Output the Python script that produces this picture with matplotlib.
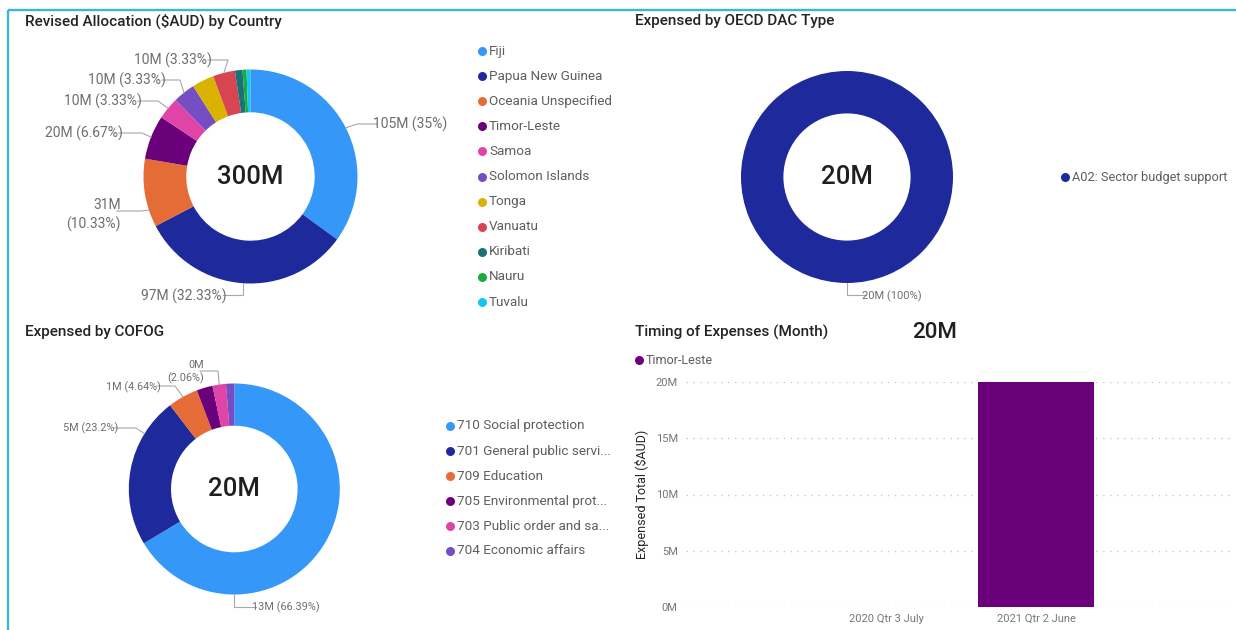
import matplotlib
matplotlib.use("Agg")
import matplotlib.pyplot as plt
import numpy as np

W, H = 1236, 630
FONT = ["Roboto", "DejaVu Sans"]
plt.rcParams["font.family"] = FONT

# ---------------- data ----------------
country_names = ["Fiji", "Papua New Guinea", "Oceania Unspecified", "Timor-Leste",
                 "Samoa", "Solomon Islands", "Tonga", "Vanuatu", "Kiribati",
                 "Nauru", "Tuvalu"]
country_values = [105, 97, 31, 20, 10, 10, 10, 10, 3.4, 1.8, 1.8]   # $M
country_colors = ["#3597F8", "#1E2A9C", "#E66C37", "#6B007B", "#E044A7",
                  "#744EC2", "#D9B300", "#D64550", "#197278", "#1AAB40", "#15C6F4"]

dac_names = ["A02: Sector budget support"]
dac_values = [20]   # $M
dac_colors = ["#1E2A9C"]

cofog_names = ["710 Social protection", "701 General public servi...", "709 Education",
               "705 Environmental prot...", "703 Public order and sa...",
               "704 Economic affairs"]
cofog_values = [13.278, 4.64, 0.928, 0.49, 0.412, 0.252]   # $M
cofog_colors = ["#3597F8", "#1E2A9C", "#E66C37", "#6B007B", "#E044A7", "#744EC2"]

months = ["2020 Qtr 3 July", "2021 Qtr 2 June"]
month_values = [0.02, 19.98]   # $M
month_series = "Timor-Leste"
month_color = "#6B007B"

# ---------------- styling / layout ----------------
TITLE_C = "#252423"
LEG_C = "#605E5C"
LAB_C = "#6E6E6E"
LINE_C = "#A8A8A8"
BORDER_C = "#3DB5D3"

fig = plt.figure(figsize=(W / 100, H / 100), dpi=100)
fig.patch.set_facecolor("white")

cax = fig.add_axes([0, 0, 1, 1], zorder=5)
cax.set_xlim(0, W)
cax.set_ylim(H, 0)
cax.axis("off")
cax.patch.set_alpha(0)

# border lines
cax.plot([8, W], [10, 10], color=BORDER_C, lw=1.7, solid_capstyle="butt")
cax.plot([8, 8], [10, H], color=BORDER_C, lw=1.7, solid_capstyle="butt")


def fmt_label(v, total, wrap=False):
    p = f"{v / total * 100:.2f}".rstrip("0").rstrip(".")
    sep = "\n" if wrap else " "
    return f"{v:.0f}M{sep}({p}%)"


def donut(cx, cy, R, values, colors, center_size):
    pad = 1.04
    ax = fig.add_axes([(cx - R * pad) / W, 1 - (cy + R * pad) / H,
                       2 * R * pad / W, 2 * R * pad / H], zorder=2)
    ax.pie(values, colors=colors, startangle=90, counterclock=False, radius=1,
           wedgeprops=dict(width=0.4, linewidth=0))
    ax.set_xlim(-pad, pad)
    ax.set_ylim(-pad, pad)
    ax.set_aspect("equal")
    ax.axis("off")
    total = sum(values)
    cax.text(cx, cy, f"{total:.0f}M", ha="center", va="center",
             fontsize=center_size, color="#201F1E", fontweight="medium")
    bounds = np.concatenate([[0], np.cumsum(values)]) / total * 360.0
    return bounds, total


def labels(cx, cy, R, bounds, total, values, names, layout, size):
    for name, lay in layout.items():
        i = names.index(name)
        th = np.deg2rad(bounds[i] + lay.get("frac", 0.5) * (bounds[i + 1] - bounds[i]))
        ax_, ay_ = cx + R * np.sin(th), cy - R * np.cos(th)
        ex, ey = lay["elbow"]
        if ex is None:
            ex = ax_
        tx, ty = lay["text"]
        endx = tx + 4 if lay["ha"] == "left" else tx - 4
        cax.plot([ax_, ex, endx], [ay_, ey, ey], color=LINE_C, lw=0.8)
        cax.text(tx, ty, fmt_label(values[i], total, lay.get("wrap", False)),
                 ha=lay["ha"], va="center", fontsize=size, color=LAB_C,
                 linespacing=1.35, multialignment="right" if lay["ha"] == "right" else "left")


def legend(x, y0, step, names, colors, size):
    for k, (n, c) in enumerate(zip(names, colors)):
        y = y0 + k * step
        cax.scatter([x], [y], s=42, color=c, linewidths=0)
        cax.text(x + 7, y, n, ha="left", va="center", fontsize=size, color=LEG_C)


# ---------------- titles ----------------
for t, (x, y) in [("Revised Allocation ($AUD) by Country", (25, 21)),
                  ("Expensed by OECD DAC Type", (635, 21)),
                  ("Expensed by COFOG", (25, 332)),
                  ("Timing of Expenses (Month)", (635, 332))]:
    cax.text(x, y, t, ha="left", va="center", fontsize=11, color=TITLE_C,
             fontweight="medium")

# ---------------- country donut ----------------
ccx, ccy, cR = 250.5, 176.5, 107
b, tot = donut(ccx, ccy, cR, country_values, country_colors, 18.5)
country_layout = {
    "Fiji": dict(text=(373, 124), ha="left", elbow=(357, 124)),
    "Papua New Guinea": dict(text=(227, 296), ha="right", elbow=(None, 295)),
    "Oceania Unspecified": dict(text=(121, 215), ha="right", elbow=(141, 211),
                                frac=0.25, wrap=True),
    "Timor-Leste": dict(text=(123, 133), ha="right", elbow=(142, 133)),
    "Samoa": dict(text=(142, 101), ha="right", elbow=(158, 101)),
    "Solomon Islands": dict(text=(166, 80), ha="right", elbow=(180, 80)),
    "Vanuatu": dict(text=(212, 60), ha="right", elbow=(228, 60)),
}
labels(ccx, ccy, cR, b, tot, country_values, country_names, country_layout, 10)
legend(482, 51, 25.1, country_names, country_colors, 9.7)

# ---------------- OECD DAC donut ----------------
dcx, dcy, dR = 847, 177, 106
b, tot = donut(dcx, dcy, dR, dac_values, dac_colors, 18.5)
dac_layout = {"A02: Sector budget support": dict(text=(862, 296), ha="left",
                                                 elbow=(None, 295))}
labels(dcx, dcy, dR, b, tot, dac_values, dac_names, dac_layout, 8)
legend(1065, 177, 25, dac_names, dac_colors, 9.2)

# ---------------- COFOG donut ----------------
fcx, fcy, fR = 234.3, 489, 105.5
b, tot = donut(fcx, fcy, fR, cofog_values, cofog_colors, 18.5)
cofog_layout = {
    "710 Social protection": dict(text=(252, 607), ha="left", elbow=(None, 607),
                                  frac=0.753),
    "701 General public servi...": dict(text=(118, 428), ha="right",
                                        elbow=(136, 428), frac=0.75),
    "709 Education": dict(text=(161, 387), ha="right", elbow=(175, 386)),
    "703 Public order and sa...": dict(text=(204, 372), ha="right",
                                       elbow=(218, 371), wrap=True),
}
labels(fcx, fcy, fR, b, tot, cofog_values, cofog_names, cofog_layout, 7.8)
legend(450, 426, 25, cofog_names, cofog_colors, 9.7)

# ---------------- timing bar chart ----------------
bx0, bx1, by0, by1 = 686, 1234, 382, 607
bax = fig.add_axes([bx0 / W, 1 - by1 / H, (bx1 - bx0) / W, (by1 - by0) / H], zorder=1)
xpos = np.arange(len(months))
bax.bar(xpos, month_values, width=0.77, color=month_color, zorder=3)
bax.set_xlim(-1.333, 2.32)
bax.set_ylim(0, 20)
bax.set_yticks([0, 5, 10, 15, 20])
bax.set_yticklabels([f"{v}M" for v in [0, 5, 10, 15, 20]])
bax.set_xticks(xpos)
bax.set_xticklabels(months)
bax.tick_params(axis="both", length=0, labelsize=8, labelcolor="#777777")
bax.tick_params(axis="y", pad=6)
bax.tick_params(axis="x", pad=5)
for s in bax.spines.values():
    s.set_visible(False)
bax.grid(axis="y", color="#C8C8C8", linestyle=(0, (1, 4)), linewidth=1)
bax.set_axisbelow(True)
bax.patch.set_alpha(0)
for lab in bax.get_yticklabels() + bax.get_xticklabels():
    lab.set_family(FONT)

cax.text(642, 494.5, "Expensed Total ($AUD)", rotation=90, ha="center", va="center",
         fontsize=9, color=TITLE_C)
cax.scatter([639], [360], s=42, color=month_color, linewidths=0)
cax.text(646, 360, month_series, ha="left", va="center", fontsize=9, color=LEG_C)
cax.text(935, 332, f"{sum(month_values):.0f}M", ha="center", va="center",
         fontsize=16, color="#201F1E", fontweight="medium")

fig.savefig("out.png", dpi=100, facecolor="white")
